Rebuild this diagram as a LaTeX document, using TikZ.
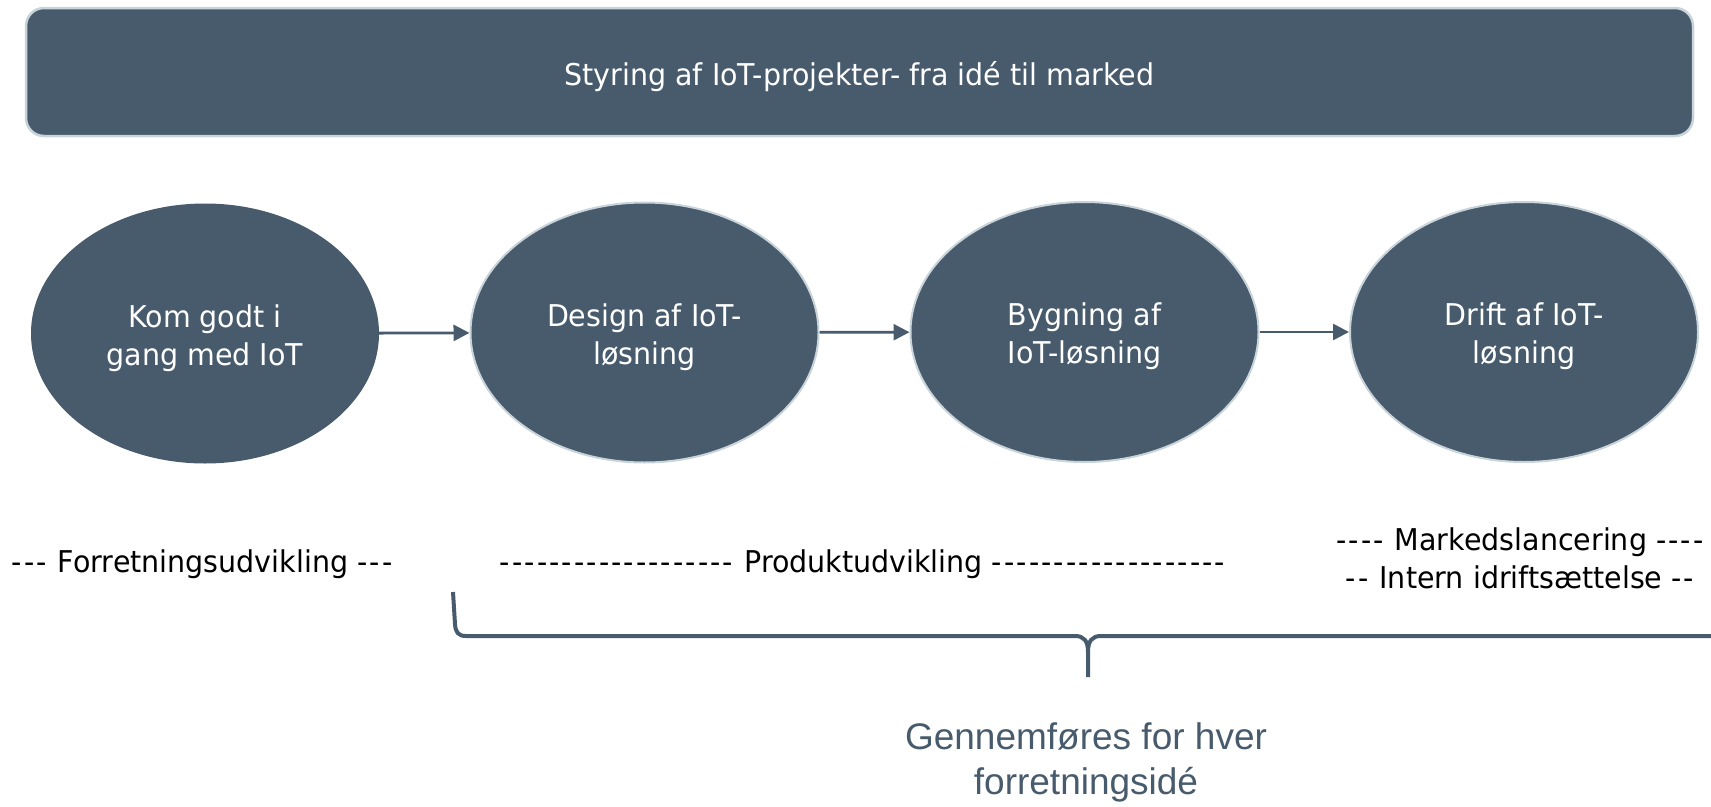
\documentclass[tikz,border=0pt]{standalone}
\usepackage{fontspec}
\setmainfont{DejaVu Sans}[FakeStretch=0.95]
\newfontfamily\arialf{Liberation Sans}
\usetikzlibrary{shapes.geometric,arrows.meta}
\definecolor{slate}{HTML}{475B6D}
\definecolor{rim}{HTML}{C9D4DA}
\newcommand{\dsh}{-\kern2.1pt}
\newcommand{\txt}[1]{\raisebox{-11.5pt}[0pt][0pt]{\begin{tabular}{@{}c@{}}#1\end{tabular}}}
\begin{document}
\begin{tikzpicture}[x=1pt,y=-1pt,
  phase/.style={ellipse, fill=slate, minimum width=348pt, minimum height=260pt,
    inner sep=0pt, align=center, text=white, font=\fontsize{30}{38}\selectfont},
  rimmed/.style={draw=rim, line width=2pt},
  flow/.style={draw=slate, line width=2.8pt, -{Triangle[length=16pt,width=16pt]}},
  lbl/.style={align=center, inner sep=0pt, font=\fontsize{30}{38}\selectfont},
  bracepath/.style={draw=slate, line width=4pt}]
\useasboundingbox (0,0) rectangle (1711,806);

\node[draw=rim, line width=2.5pt, fill=slate, rounded corners=18pt,
      minimum width=1667pt, minimum height=128pt, text=white,
      font=\fontsize{30}{38}\selectfont] (title) at (859.5,72)
      {\raisebox{-13pt}[0pt][0pt]{Styring af IoT-projekter- fra idé til marked}};

\node[phase] (e1) at (205,333.5) {\txt{Kom godt i\\gang med IoT}};
\node[phase,rimmed] (e2) at (644.5,332.5) {\txt{Design af IoT-\\løsning}};
\node[phase,rimmed] (e3) at (1084.5,332) {\txt{Bygning af\\IoT-løsning}};
\node[phase,rimmed] (e4) at (1524,332) {\txt{Drift af IoT-\\løsning}};

\draw[flow] (e1) -- (e2);
\draw[flow] (e2) -- (e3);
\draw[flow] (e3) -- (e4);

\node[lbl] (fu) at (203,564) {\dsh\dsh\dsh{} Forretningsudvikling \dsh\dsh\dsh};
\node[lbl] (pu) at (863.5,564) {\foreach\i in {1,...,19}{\dsh}{} Produktudvikling \foreach\i in {1,...,19}{\dsh}};
\node[lbl] (ml) at (1521,558.5) {\dsh\dsh\dsh\dsh{} Markedslancering \dsh\dsh\dsh\dsh\\\dsh\dsh{} Intern idriftsættelse \dsh\dsh};

\coordinate (bl) at (453,592);
\coordinate (bt) at (1088,677);
\coordinate (br) at (1713,636);
\draw[bracepath] (bl) -- (455,624) .. controls (455.5,632) and (458,636) .. (466,636)
  -- (1075,636) .. controls (1084,636) and (1088,641) .. (1088,652) -- (bt)
  (1088,652) .. controls (1088,641) and (1092,636) .. (1101,636) -- (br);

\node[font=\arialf\fontsize{37}{45}\selectfont, text=slate, align=center, inner sep=0pt]
  (note) at (1086,762) {Gennemføres for hver\\forretningsidé};
\end{tikzpicture}
\end{document}
